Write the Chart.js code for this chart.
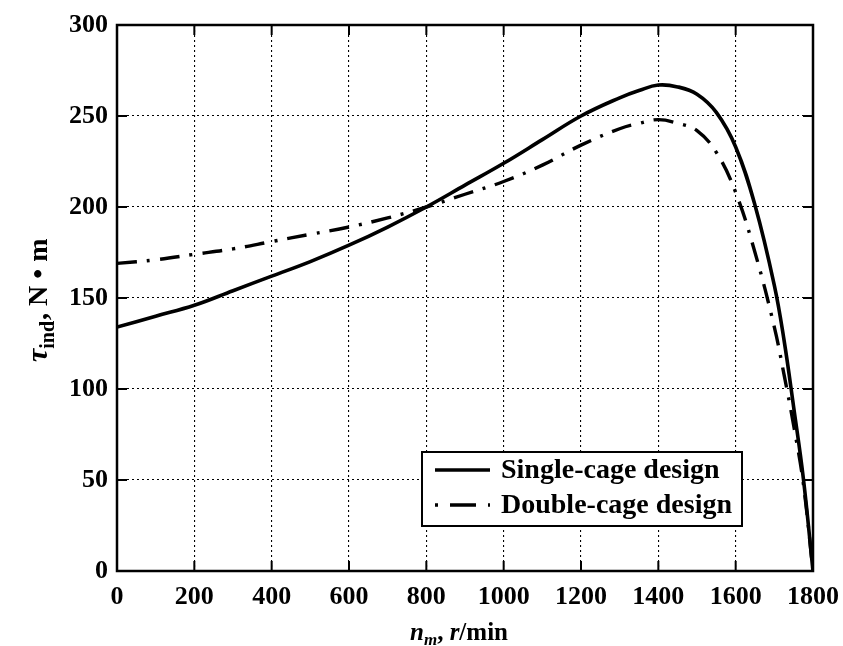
<!DOCTYPE html>
<html>
<head>
<meta charset="utf-8">
<script src="https://cdn.jsdelivr.net/npm/chart.js@4"></script>
<style>
html,body{margin:0;padding:0;background:#fff;}
#wrap{width:843px;height:646px;}
</style>
</head>
<body>
<div id="wrap"><canvas id="c" width="843" height="646"></canvas></div>
<script>
// ---- data ----
const speeds = [0,100,200,300,400,500,600,700,800,900,1000,1100,1200,1300,1350,1400,1450,1500,1550,1600,1650,1700,1725,1750,1775,1800];
const singleCage = [134,140,146,154,162,170,179,189,200,212,224,237,250,260,264,267,266,262,252,233,201,157,127,90,51,0];
const doubleCage = [169,171,174,177,181,185,189,194,200,207,214,223,234,243,246,248,246,242,230,208,175,134,108,80,48,0];
const xTicks = [0,200,400,600,800,1000,1200,1400,1600,1800];
const yTicks = [0,50,100,150,200,250,300];
const seriesNames = ['Single-cage design','Double-cage design'];

const FONT = '"Liberation Serif", "DejaVu Serif", serif';

function pts(vals){ return speeds.map((s,i)=>({x:s,y:vals[i]})); }

const overlay = {
  id:'overlay',
  afterDraw(chart){
    const ctx = chart.ctx, a = chart.chartArea;
    const xs = chart.scales.x, ys = chart.scales.y;
    ctx.save();
    // frame
    ctx.strokeStyle='#000'; ctx.lineWidth=2.5; ctx.setLineDash([]);
    ctx.strokeRect(a.left,a.top,a.right-a.left,a.bottom-a.top);
    // inward ticks
    ctx.lineWidth=2;
    const L=10;
    xTicks.forEach(v=>{
      const px=xs.getPixelForValue(v);
      ctx.beginPath(); ctx.moveTo(px,a.bottom); ctx.lineTo(px,a.bottom-L); ctx.stroke();
      ctx.beginPath(); ctx.moveTo(px,a.top); ctx.lineTo(px,a.top+L); ctx.stroke();
    });
    yTicks.forEach(v=>{
      const py=ys.getPixelForValue(v);
      ctx.beginPath(); ctx.moveTo(a.left,py); ctx.lineTo(a.left+L,py); ctx.stroke();
      ctx.beginPath(); ctx.moveTo(a.right,py); ctx.lineTo(a.right-L,py); ctx.stroke();
    });
    // legend
    const lx=a.left+305, ly=a.top+427;
    const lw=320, lh=74;
    ctx.fillStyle='#fff'; ctx.fillRect(lx,ly,lw,lh);
    ctx.lineWidth=2; ctx.strokeStyle='#000';
    ctx.strokeRect(lx,ly,lw,lh);
    ctx.font='bold 28px '+FONT; ctx.fillStyle='#000'; ctx.textBaseline='middle'; ctx.textAlign='left';
    const rows=[ly+18, ly+53];
    chart.data.datasets.forEach((ds,i)=>{
      ctx.lineWidth=3.5;
      ctx.setLineDash(i===0?[]:[3,12,26,12]);
      ctx.beginPath(); ctx.moveTo(lx+13,rows[i]); ctx.lineTo(lx+68,rows[i]); ctx.stroke();
      ctx.setLineDash([]);
      ctx.fillText(ds.label, lx+79, rows[i]+1);
    });
    // x-axis title: n_m, r/min
    ctx.textBaseline='alphabetic';
    let x=410, y=640;
    ctx.font='italic bold 25px '+FONT; ctx.fillText('n',x,y); x+=ctx.measureText('n').width;
    ctx.font='italic bold 17px '+FONT; ctx.fillText('m',x,y+5); x+=ctx.measureText('m').width;
    ctx.font='bold 25px '+FONT; ctx.fillText(', ',x,y); x+=ctx.measureText(', ').width;
    ctx.font='italic bold 25px '+FONT; ctx.fillText('r',x,y); x+=ctx.measureText('r').width;
    ctx.font='bold 25px '+FONT; ctx.fillText('/min',x,y);
    // y-axis title: τ_ind, N • m (rotated)
    ctx.translate(47,362); ctx.rotate(-Math.PI/2);
    x=0; y=0;
    ctx.font='italic bold 30px '+FONT; ctx.fillText('τ',x,y); x+=ctx.measureText('τ').width;
    ctx.font='bold 20px '+FONT; ctx.fillText('ind',x,y+7); x+=ctx.measureText('ind').width+1;
    ctx.font='bold 28px '+FONT; ctx.fillText(', N • m',x,y);
    ctx.restore();
  }
};

new Chart(document.getElementById('c'),{
  type:'line',
  data:{
    datasets:[
      {label:seriesNames[0], data:pts(singleCage), borderColor:'#000', borderWidth:3.6, pointRadius:0, tension:0.4, fill:false},
      {label:seriesNames[1], data:pts(doubleCage), borderColor:'#000', borderWidth:3.4, borderDash:[20,10,3,10], pointRadius:0, tension:0.4, fill:false}
    ]
  },
  options:{
    responsive:false, animation:false, devicePixelRatio:1,
    layout:{padding:{left:0,right:30,top:25,bottom:0}},
    plugins:{legend:{display:false}, tooltip:{enabled:false}},
    scales:{
      x:{type:'linear', min:0, max:1800,
        afterBuildTicks(s){ s.ticks = xTicks.map(v=>({value:v})); },
        afterFit(s){ s.height=75; s.paddingLeft=0; s.paddingRight=0; },
        ticks:{color:'#000', font:{family:FONT,size:26,weight:'bold'}, padding:11, maxRotation:0, autoSkip:false, callback:v=>String(v)},
        grid:{color:'#000', lineWidth:1.1, drawTicks:false},
        border:{display:false, dash:[2,3]}
      },
      y:{type:'linear', min:0, max:300,
        afterBuildTicks(s){ s.ticks = yTicks.map(v=>({value:v})); },
        afterFit(s){ s.width=117; s.paddingTop=0; s.paddingBottom=0; },
        ticks:{color:'#000', font:{family:FONT,size:26,weight:'bold'}, padding:9, autoSkip:false, callback:v=>String(v)},
        grid:{color:'#000', lineWidth:1.1, drawTicks:false},
        border:{display:false, dash:[2,3]}
      }
    }
  },
  plugins:[overlay]
});
</script>
</body>
</html>
